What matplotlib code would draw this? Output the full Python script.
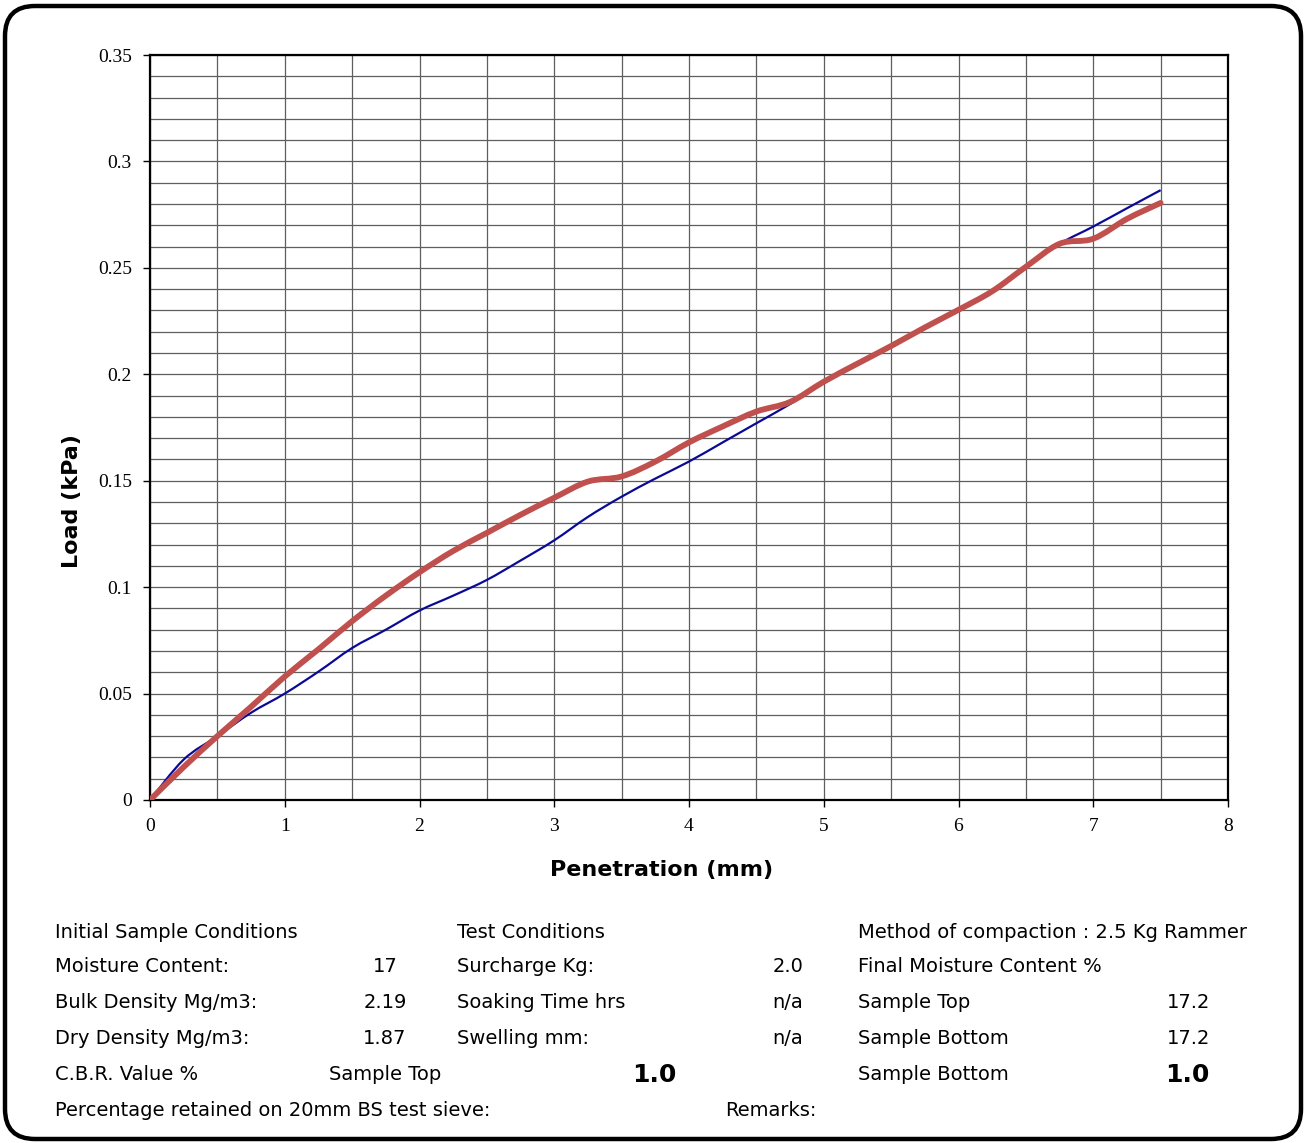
import matplotlib
matplotlib.use('Agg')
import matplotlib.pyplot as plt
from matplotlib.patches import FancyBboxPatch, PathPatch
from matplotlib.path import Path
from matplotlib.ticker import MultipleLocator

# penetration readings (mm), every 0.25 mm
pen = [0, 0.25, 0.5, 0.75, 1.0, 1.25, 1.5, 1.75, 2.0, 2.25, 2.5, 2.75, 3.0, 3.25, 3.5, 3.75,
       4.0, 4.25, 4.5, 4.75, 5.0, 5.25, 5.5, 5.75, 6.0, 6.25, 6.5, 6.75, 7.0, 7.25, 7.5]

# load (kPa) - thin blue curve
load_blue = [0, 0.019, 0.030, 0.041, 0.050, 0.0603, 0.0714, 0.080, 0.089, 0.096, 0.1034, 0.1125,
             0.122, 0.133, 0.1425, 0.151, 0.159, 0.168, 0.177, 0.186, 0.196, 0.205, 0.2133, 0.222,
             0.2303, 0.239, 0.2505, 0.2613, 0.2694, 0.278, 0.2865]

# load (kPa) - thick red curve
load_red = [0, 0.0155, 0.030, 0.0438, 0.058, 0.0708, 0.084, 0.096, 0.107, 0.117, 0.1255, 0.134,
            0.142, 0.1496, 0.152, 0.159, 0.168, 0.1755, 0.1825, 0.187, 0.1965, 0.205, 0.2133, 0.222,
            0.2303, 0.239, 0.2505, 0.2613, 0.2637, 0.273, 0.2805]

# info block under the chart
col1_labels = ['Initial Sample Conditions', 'Moisture Content:', 'Bulk Density Mg/m3:',
               'Dry Density Mg/m3:', 'C.B.R. Value %', 'Percentage retained on 20mm BS test sieve:']
col1_values = ['', '17', '2.19', '1.87', 'Sample Top', '']
col2_labels = ['Test Conditions', 'Surcharge Kg:', 'Soaking Time hrs', 'Swelling mm:', '', '']
col2_values = ['', '2.0', 'n/a', 'n/a', '', '']
col3_labels = ['Method of compaction : 2.5 Kg Rammer', 'Final Moisture Content %', 'Sample Top',
               'Sample Bottom', 'Sample Bottom', '']
col3_values = ['', '', '17.2', '17.2', '', '']
cbr_top = '1.0'
cbr_bottom = '1.0'

plt.rcParams['font.family'] = ['DejaVu Sans']


def smooth_path(xs, ys):
    # excel style "smoothed line": bezier segments through the readings
    verts = [(xs[0], ys[0])]
    codes = [Path.MOVETO]
    n = len(xs)
    for i in range(n - 1):
        x0, y0 = (xs[i - 1], ys[i - 1]) if i > 0 else (xs[i], ys[i])
        x3, y3 = (xs[i + 2], ys[i + 2]) if i + 2 < n else (xs[i + 1], ys[i + 1])
        c1 = (xs[i] + (xs[i + 1] - x0) / 6, ys[i] + (ys[i + 1] - y0) / 6)
        c2 = (xs[i + 1] - (x3 - xs[i]) / 6, ys[i + 1] - (y3 - ys[i]) / 6)
        verts += [c1, c2, (xs[i + 1], ys[i + 1])]
        codes += [Path.CURVE4] * 3
    return Path(verts, codes)


W, H = 1306, 1143
fig = plt.figure(figsize=(W / 100, H / 100), dpi=100)

# pixel-space background axes for the rounded frame and the text block
bg = fig.add_axes([0, 0, 1, 1], zorder=0)
bg.set_xlim(0, W)
bg.set_ylim(H, 0)
bg.axis('off')
frame = FancyBboxPatch((5, 6), W - 10, H - 10, boxstyle='round,pad=0,rounding_size=30',
                       fc='white', ec='black', lw=3.2)
bg.add_patch(frame)

# main chart
ax = fig.add_axes([150 / W, 1 - 800 / H, (1228 - 150) / W, (800 - 55) / H], zorder=1)
ax.add_patch(PathPatch(smooth_path(pen, load_blue), fc='none', ec='#0a0a96', lw=1.6, zorder=3))
ax.add_patch(PathPatch(smooth_path(pen, load_red), fc='none', ec='#c0504d', lw=4.2, zorder=4,
                       capstyle='round', joinstyle='round'))

ax.set_xlim(0, 8)
ax.set_ylim(0, 0.35)
ax.xaxis.set_major_locator(MultipleLocator(1))
ax.xaxis.set_minor_locator(MultipleLocator(0.5))
ax.yaxis.set_major_locator(MultipleLocator(0.05))
ax.yaxis.set_minor_locator(MultipleLocator(0.01))
ax.grid(which='both', axis='both', color='#5e5e5e', lw=0.9)
ax.tick_params(which='minor', length=0)
ax.tick_params(which='major', length=5, width=1, direction='out', pad=8)
for s in ax.spines.values():
    s.set_linewidth(1.6)

ax.set_xticklabels([f'{v:g}' for v in ax.get_xticks()], family='Liberation Serif', fontsize=14)
ax.set_yticklabels([f'{v:g}' for v in ax.get_yticks()], family='Liberation Serif', fontsize=14)

ax.set_xlabel('Penetration (mm)', fontsize=16, fontweight='bold', va='center')
ax.xaxis.set_label_coords(0.475, -0.094)
ax.set_ylabel('Load (kPa)', fontsize=16, fontweight='bold', va='center')
ax.yaxis.set_label_coords(-0.072, 0.401)

# text block
rows_y = [932, 967, 1003, 1039, 1075, 1110]
fs = 14
for i, y in enumerate(rows_y):
    bg.text(55, y, col1_labels[i], fontsize=fs, va='center', ha='left')
    if col1_values[i]:
        bg.text(385, y, col1_values[i], fontsize=fs, va='center', ha='center')
    if col2_labels[i]:
        bg.text(457, y, col2_labels[i], fontsize=fs, va='center', ha='left')
    if col2_values[i]:
        bg.text(803, y, col2_values[i], fontsize=fs, va='center', ha='right')
    if col3_labels[i]:
        bg.text(858, y, col3_labels[i], fontsize=fs, va='center', ha='left')
    if col3_values[i]:
        bg.text(1210, y, col3_values[i], fontsize=fs, va='center', ha='right')

bg.text(654, rows_y[4], cbr_top, fontsize=18, fontweight='bold', va='center', ha='center')
bg.text(1210, rows_y[4], cbr_bottom, fontsize=18, fontweight='bold', va='center', ha='right')
bg.text(725, rows_y[5], 'Remarks:', fontsize=fs, va='center', ha='left')

fig.savefig('out.png', dpi=100)
